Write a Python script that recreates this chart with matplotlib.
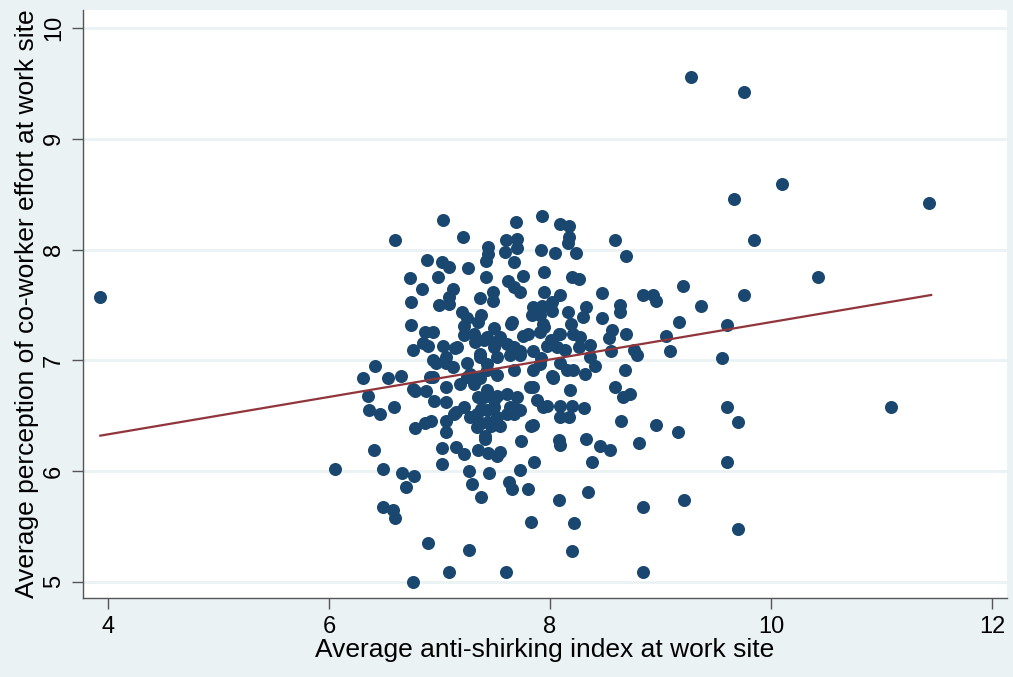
import numpy as np
import matplotlib.pyplot as plt

# site averages
anti_shirking = [
    7.03, 6.60, 7.21, 7.44, 7.44, 7.42, 6.89, 7.02, 7.09, 7.26, 6.73, 6.99, 7.42, 6.84, 7.12, 7.09,
    7.37, 7.48, 7.48, 6.74, 7.00, 7.09, 7.20, 7.25, 7.38, 7.35, 6.74, 7.49, 7.22, 6.87, 6.94, 7.22,
    7.31, 7.43, 6.85, 6.90, 7.03, 6.76, 7.16, 7.32, 7.50, 6.42, 6.31, 6.53, 6.65, 6.97, 7.06, 7.25,
    7.37, 6.94, 7.12, 7.43,
    7.69, 7.93, 8.09, 8.17, 7.60, 7.70, 7.59, 7.70, 7.92, 8.16, 8.17, 8.05, 8.24, 8.59, 8.69, 7.67,
    7.95, 7.62, 7.76, 8.20, 8.26, 7.67, 7.73, 7.95, 8.09, 8.47, 8.84, 8.93, 8.96, 8.02, 7.85, 7.93,
    8.33, 8.63, 8.63, 7.84, 7.91, 8.16, 8.02, 8.47, 8.30, 7.66, 7.95, 8.19, 8.56, 8.69, 7.91, 8.09,
    7.76, 8.27, 8.53, 7.55, 8.01, 8.36, 7.40, 7.85, 7.67, 8.14, 8.26, 8.55, 8.76, 8.79, 8.36, 7.52,
    7.73, 7.92, 8.09, 8.41, 8.68, 8.21, 7.43, 7.67, 7.85, 8.02, 8.32,
    6.35, 6.76, 6.78, 6.88, 6.91, 7.06, 6.95, 7.06, 6.36, 6.46, 6.59, 6.78, 6.87, 6.92, 7.06, 7.13,
    7.22, 7.06, 7.34, 7.41, 7.47, 6.41, 7.02, 7.15, 7.22, 7.35, 7.44, 7.52, 6.05, 6.49, 7.02, 6.66,
    6.77, 6.70, 7.27, 7.45, 7.29, 7.38, 6.49, 6.58, 6.60, 6.90, 7.27, 7.09, 6.76, 7.31, 7.40, 7.49,
    7.34, 7.43, 7.52, 7.38, 7.25, 7.19,
    8.59, 8.72, 8.66, 8.18, 8.03, 7.85, 7.88, 7.97, 8.09, 8.20, 8.31, 8.09, 8.17, 7.67, 7.70, 7.85,
    7.55, 8.64, 7.74, 8.09, 8.33, 8.45, 8.54, 8.81, 7.55, 7.86, 8.38, 7.73, 7.63, 7.66, 7.80, 8.08,
    8.34, 8.84, 7.83, 8.22, 8.20, 7.60, 8.84,
    9.28, 9.76, 10.10, 9.67, 11.43, 9.85, 10.43, 9.20, 9.76, 9.37, 9.17, 9.60, 9.05, 9.09, 9.56, 9.60,
    11.09, 8.96, 9.16, 9.70, 9.60, 9.21, 9.70, 3.93,
    7.65, 7.80, 7.94, 8.08, 8.21, 7.14, 6.94, 7.06, 7.37, 7.49, 7.61, 7.73, 7.64, 7.91, 7.97, 8.06,
    8.03, 8.15, 7.28, 7.37, 7.52, 7.82, 7.94, 7.43, 7.52, 7.61, 7.70, 7.35, 7.38, 7.49, 7.64, 7.73,
    7.15, 7.28, 7.44, 7.61, 7.83, 7.41, 8.08,
]
coworker_effort = [
    8.27, 8.09, 8.11, 8.02, 7.96, 7.90, 7.91, 7.89, 7.84, 7.83, 7.74, 7.75, 7.75, 7.64, 7.64, 7.57,
    7.56, 7.62, 7.54, 7.53, 7.50, 7.51, 7.44, 7.38, 7.41, 7.35, 7.32, 7.29, 7.31, 7.26, 7.26, 7.23,
    7.24, 7.21, 7.16, 7.13, 7.13, 7.09, 7.12, 7.17, 7.15, 6.95, 6.84, 6.84, 6.86, 6.98, 7.03, 6.98,
    7.03, 6.85, 6.94, 6.91,
    8.25, 8.30, 8.23, 8.21, 8.09, 8.10, 7.98, 8.01, 8.00, 8.06, 8.11, 7.97, 7.97, 8.09, 7.94, 7.89,
    7.80, 7.72, 7.76, 7.75, 7.73, 7.66, 7.62, 7.62, 7.59, 7.61, 7.59, 7.59, 7.54, 7.53, 7.48, 7.49,
    7.48, 7.50, 7.44, 7.41, 7.41, 7.44, 7.45, 7.38, 7.39, 7.35, 7.30, 7.33, 7.27, 7.24, 7.26, 7.24,
    7.22, 7.21, 7.20, 7.21, 7.18, 7.14, 7.18, 7.08, 7.12, 7.09, 7.12, 7.08, 7.09, 7.05, 7.03, 7.03,
    7.05, 7.02, 6.98, 6.95, 6.91, 6.91, 6.97, 6.91, 6.91, 6.86, 6.88,
    6.68, 6.74, 6.72, 6.72, 6.85, 6.76, 6.63, 6.62, 6.55, 6.52, 6.58, 6.39, 6.43, 6.45, 6.45, 6.52,
    6.58, 6.35, 6.40, 6.29, 6.41, 6.19, 6.21, 6.22, 6.15, 6.19, 6.16, 6.14, 6.02, 6.02, 6.06, 5.98,
    5.96, 5.86, 6.00, 5.98, 5.88, 5.77, 5.68, 5.65, 5.58, 5.35, 5.29, 5.09, 5.00, 6.79, 6.67, 6.64,
    6.52, 6.55, 6.49, 6.43, 6.85, 6.79,
    6.76, 6.70, 6.67, 6.73, 6.84, 6.76, 6.64, 6.59, 6.59, 6.59, 6.57, 6.49, 6.49, 6.52, 6.56, 6.42,
    6.41, 6.45, 6.27, 6.24, 6.29, 6.23, 6.19, 6.25, 6.17, 6.08, 6.08, 6.01, 5.90, 5.84, 5.84, 5.74,
    5.81, 5.68, 5.54, 5.53, 5.28, 5.09, 5.09,
    9.56, 9.42, 8.59, 8.46, 8.42, 8.09, 7.75, 7.67, 7.59, 7.49, 7.35, 7.32, 7.22, 7.08, 7.02, 6.58,
    6.58, 6.42, 6.35, 6.44, 6.08, 5.74, 5.48, 7.57,
    7.33, 7.24, 7.33, 7.24, 7.24, 7.11, 7.00, 6.98, 7.06, 7.12, 7.15, 7.08, 7.05, 6.97, 7.13, 7.12,
    6.85, 6.91, 6.88, 6.84, 6.87, 6.76, 6.58, 6.73, 6.68, 6.70, 6.67, 6.67, 6.56, 6.58, 6.58, 6.55,
    6.53, 6.49, 6.44, 6.52, 6.41, 6.32, 6.28,
]

# fitted line end points
fit_x = [3.93, 11.45]
fit_y = [6.32, 7.59]

x_ticks = [4, 6, 8, 10, 12]
y_ticks = [5, 6, 7, 8, 9, 10]

bg = '#eaf2f3'
plt.rcParams['font.family'] = ['Liberation Sans', 'DejaVu Sans']

fig = plt.figure(figsize=(10.13, 6.77), dpi=100, facecolor=bg)
ax = fig.add_axes([0.082, 0.117, 0.912, 0.868])
ax.set_facecolor('white')

ax.scatter(anti_shirking, coworker_effort, s=88, c='#1a476f', linewidths=0, zorder=3)
ax.plot(fit_x, fit_y, color='#90353b', lw=1.6, zorder=4)

ax.set_xlim(3.774, 12.136)
ax.set_ylim(4.856, 10.162)
ax.set_xticks(x_ticks)
ax.set_yticks(y_ticks)
ax.set_yticklabels([str(v) for v in y_ticks], rotation=90, va='center')
ax.grid(axis='y', color=bg, lw=2, zorder=1)
ax.set_axisbelow(True)

for side in ['top', 'right']:
    ax.spines[side].set_visible(False)
for side in ['left', 'bottom']:
    ax.spines[side].set_color('#555555')
    ax.spines[side].set_linewidth(1.0)

ax.tick_params(axis='both', length=8, width=1, color='#555555', labelsize=17, pad=5)
ax.set_xlabel('Average anti-shirking index at work site', fontsize=19, labelpad=0)
ax.set_ylabel('Average perception of co-worker effort at work site', fontsize=19, labelpad=3)

fig.savefig('out.png', dpi=100, facecolor=bg)
